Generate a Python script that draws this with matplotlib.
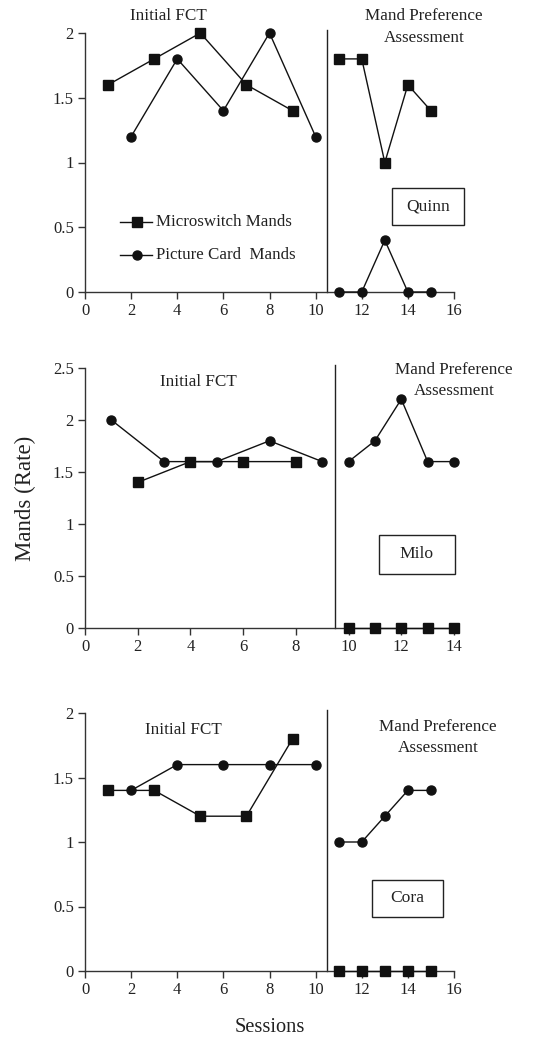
import numpy as np
import matplotlib
matplotlib.use("Agg")
import matplotlib.pyplot as plt

plt.rcParams['font.family'] = ['Liberation Serif', 'DejaVu Serif']

# Quinn
quinn_micro_x = [1, 3, 5, 7, 9]
quinn_micro_y = [1.6, 1.8, 2.0, 1.6, 1.4]
quinn_pic_x = [2, 4, 6, 8, 10]
quinn_pic_y = [1.2, 1.8, 1.4, 2.0, 1.2]
quinn_pref_x = [11, 12, 13, 14, 15]
quinn_pref_micro = [1.8, 1.8, 1.0, 1.6, 1.4]
quinn_pref_pic = [0, 0, 0.4, 0, 0]

# Milo
milo_micro_x = [2, 4, 6, 8]
milo_micro_y = [1.4, 1.6, 1.6, 1.6]
milo_pic_x = [1, 3, 5, 7, 9]
milo_pic_y = [2.0, 1.6, 1.6, 1.8, 1.6]
milo_pref_x = [10, 11, 12, 13, 14]
milo_pref_micro = [0, 0, 0, 0, 0]
milo_pref_pic = [1.6, 1.8, 2.2, 1.6, 1.6]

# Cora
cora_micro_x = [1, 3, 5, 7, 9]
cora_micro_y = [1.4, 1.4, 1.2, 1.2, 1.8]
cora_pic_x = [2, 4, 6, 8, 10]
cora_pic_y = [1.4, 1.6, 1.6, 1.6, 1.6]
cora_pref_x = [11, 12, 13, 14, 15]
cora_pref_micro = [0, 0, 0, 0, 0]
cora_pref_pic = [1.0, 1.0, 1.2, 1.4, 1.4]

W, H = 551, 1040
fig = plt.figure(figsize=(W / 100, H / 100), dpi=100)


def fx(px):
    return px / W


def fy(py):
    return 1 - py / H


def add_panel(top, bottom, xmax, ymax, yticks, phase):
    ax = fig.add_axes([fx(85), fy(bottom), fx(454) - fx(85), fy(top) - fy(bottom)])
    ax.set_xlim(0, xmax)
    ax.set_ylim(0, ymax)
    ax.set_xticks(np.arange(0, xmax + 1, 2))
    ax.set_yticks(yticks)
    ax.set_yticklabels([('%g' % v) for v in yticks])
    for s in ['top', 'right']:
        ax.spines[s].set_visible(False)
    for s in ['left', 'bottom']:
        ax.spines[s].set_color('#333333')
        ax.spines[s].set_linewidth(1.0)
    ax.tick_params(direction='out', length=5, width=1, color='#333333',
                   labelsize=12, pad=3, labelcolor='#222222')
    ax.axvline(phase, ymin=0, ymax=1.01, color='#222222', lw=1, clip_on=False)
    return ax


def draw(ax, x, y, marker):
    ms = 7.5 if marker == 's' else 6.5
    ax.plot(x, y, color='#111111', lw=1, marker=marker, ms=ms,
            markerfacecolor='#111111', markeredgecolor='#111111', clip_on=False,
            zorder=3)


# panel 1
ax1 = add_panel(33, 292, 16, 2, [0, 0.5, 1, 1.5, 2], 10.5)
draw(ax1, quinn_micro_x, quinn_micro_y, 's')
draw(ax1, quinn_pic_x, quinn_pic_y, 'o')
draw(ax1, quinn_pref_x, quinn_pref_micro, 's')
draw(ax1, quinn_pref_x, quinn_pref_pic, 'o')

# panel 2
ax2 = add_panel(368, 628, 14, 2.5, [0, 0.5, 1, 1.5, 2, 2.5], 9.5)
draw(ax2, milo_pic_x, milo_pic_y, 'o')
draw(ax2, milo_micro_x, milo_micro_y, 's')
draw(ax2, milo_pref_x, milo_pref_pic, 'o')
draw(ax2, milo_pref_x, milo_pref_micro, 's')

# panel 3
ax3 = add_panel(713, 971, 16, 2, [0, 0.5, 1, 1.5, 2], 10.5)
draw(ax3, cora_micro_x, cora_micro_y, 's')
draw(ax3, cora_pic_x, cora_pic_y, 'o')
draw(ax3, cora_pref_x, cora_pref_pic, 'o')
draw(ax3, cora_pref_x, cora_pref_micro, 's')

# phase labels
def label(px, py, s, size=12.3):
    fig.text(fx(px), fy(py), s, ha='center', va='center', fontsize=size,
             color='#222222')

label(168, 16, 'Initial FCT')
label(424, 16, 'Mand Preference')
label(424, 38, 'Assessment')
label(198, 382, 'Initial FCT')
label(454, 370, 'Mand Preference')
label(454, 391, 'Assessment')
label(183, 730, 'Initial FCT')
label(438, 727, 'Mand Preference')
label(438, 748, 'Assessment')

# name boxes
def namebox(x0, y0, x1, y1, s):
    r = plt.Rectangle((fx(x0), fy(y1)), fx(x1) - fx(x0), fy(y0) - fy(y1),
                      transform=fig.transFigure, fill=False, lw=1,
                      edgecolor='#222222')
    fig.patches.append(r)
    fig.text(fx((x0 + x1) / 2), fy((y0 + y1) / 2), s, ha='center',
             va='center', fontsize=12.6, color='#222222')

namebox(392, 188, 464, 225, 'Quinn')
namebox(379, 535, 455, 574, 'Milo')
namebox(372, 880, 443, 917, 'Cora')

# legend by hand
for ly, mk, txt in [(222, 's', 'Microswitch Mands'), (255, 'o', 'Picture Card  Mands')]:
    fig.lines.append(plt.Line2D([fx(120), fx(152)], [fy(ly), fy(ly)],
                                transform=fig.transFigure, color='#111111', lw=1))
    fig.lines.append(plt.Line2D([fx(137)], [fy(ly)], transform=fig.transFigure,
                                marker=mk, ms=7.5 if mk == 's' else 6.5,
                                color='#111111'))
    fig.text(fx(156), fy(ly), txt, ha='left', va='center', fontsize=12.2,
             color='#222222')

fig.text(fx(25), fy(498), 'Mands (Rate)', rotation=90, ha='center',
         va='center', fontsize=16.5, color='#222222')
fig.text(fx(270), fy(1028), 'Sessions', ha='center', va='center',
         fontsize=14.7, color='#222222')

fig.savefig('out.png', dpi=100)
